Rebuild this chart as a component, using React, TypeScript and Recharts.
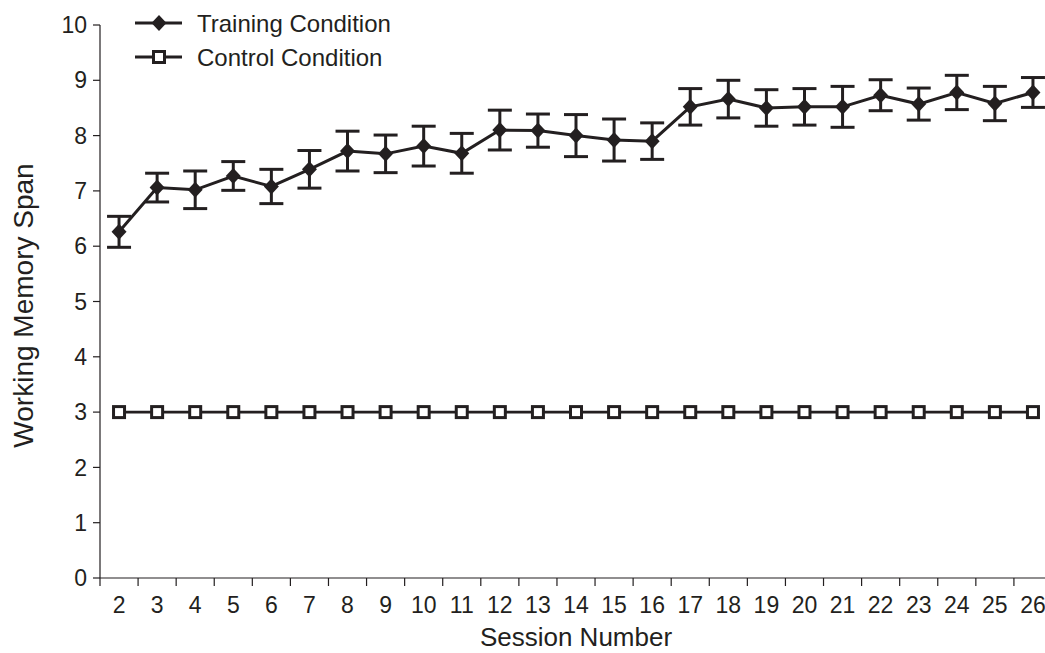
import { LineChart, Line, XAxis, YAxis, ErrorBar, Legend } from 'recharts';

const sessions = [2, 3, 4, 5, 6, 7, 8, 9, 10, 11, 12, 13, 14, 15, 16, 17, 18, 19, 20, 21, 22, 23, 24, 25, 26];
const trainingMean = [6.26, 7.06, 7.02, 7.27, 7.08, 7.39, 7.72, 7.67, 7.81, 7.68, 8.1, 8.09, 8.0, 7.92, 7.9, 8.52, 8.66, 8.5, 8.52, 8.52, 8.73, 8.57, 8.78, 8.58, 8.78];
const trainingErr = [0.28, 0.26, 0.34, 0.26, 0.31, 0.34, 0.36, 0.34, 0.36, 0.36, 0.36, 0.3, 0.38, 0.38, 0.33, 0.33, 0.34, 0.33, 0.33, 0.37, 0.28, 0.29, 0.31, 0.31, 0.27];
const controlMean = [3, 3, 3, 3, 3, 3, 3, 3, 3, 3, 3, 3, 3, 3, 3, 3, 3, 3, 3, 3, 3, 3, 3, 3, 3];
const yTicks = [0, 1, 2, 3, 4, 5, 6, 7, 8, 9, 10];

const data = sessions.map((s, i) => ({
  session: s,
  training: trainingMean[i],
  err: trainingErr[i],
  control: controlMean[i],
}));

const INK = '#231f20';
const FONT = 'Arial, "Liberation Sans", sans-serif';
const W = 1052;
const H = 653;
const Y_AXIS_W = 100;
const HALF_BAND = (W - Y_AXIS_W) / sessions.length / 2;

const Diamond = (props: any) => {
  const { cx, cy } = props;
  if (cx == null || cy == null) return null;
  return <polygon points={`${cx},${cy - 8} ${cx + 7.5},${cy} ${cx},${cy + 8} ${cx - 7.5},${cy}`} fill={INK} />;
};

const Square = (props: any) => {
  const { cx, cy } = props;
  if (cx == null || cy == null) return null;
  return <rect x={cx - 5.5} y={cy - 5.5} width={11} height={11} fill="#fff" stroke={INK} strokeWidth={3} />;
};

const XTick = (props: any) => {
  const { x, y, payload, index } = props;
  return (
    <g>
      <line x1={x - HALF_BAND} x2={x - HALF_BAND} y1={y} y2={y + 8} stroke={INK} strokeWidth={1.2} />
      {index === sessions.length - 1 && (
        <line x1={x + HALF_BAND} x2={x + HALF_BAND} y1={y} y2={y + 8} stroke={INK} strokeWidth={1.2} />
      )}
      <text x={x} y={y + 35} textAnchor="middle" fill={INK} fontSize={23} fontFamily={FONT}>
        {payload.value}
      </text>
    </g>
  );
};

const LegendBox = () => (
  <svg width={280} height={70}>
    <line x1={0} x2={47} y1={23} y2={23} stroke={INK} strokeWidth={3} />
    <Diamond cx={24} cy={23} />
    <text x={62} y={31.5} fill={INK} fontSize={24} fontFamily={FONT}>Training Condition</text>
    <line x1={0} x2={47} y1={57} y2={57} stroke={INK} strokeWidth={3} />
    <Square cx={24} cy={57} />
    <text x={62} y={65.5} fill={INK} fontSize={24} fontFamily={FONT}>Control Condition</text>
  </svg>
);

export default function App() {
  return (
    <div style={{ position: 'absolute', left: 0, top: 0, width: 1045, height: 653, overflow: 'hidden', background: '#fff' }}>
      <LineChart width={W} height={H} data={data} margin={{ top: 25, right: 0, left: 0, bottom: 0 }}>
        <XAxis
          dataKey="session"
          scale="band"
          height={75}
          stroke={INK}
          strokeWidth={1.2}
          tickLine={false}
          tickSize={0}
          tickMargin={0}
          interval={0}
          tick={<XTick />}
          label={{
            content: (p: any) => (
              <text x={p.viewBox.x + p.viewBox.width / 2} y={p.viewBox.y + 68} textAnchor="middle" fill={INK} fontSize={26} fontFamily={FONT}>
                Session Number
              </text>
            ),
          }}
        />
        <YAxis
          width={Y_AXIS_W}
          domain={[0, 10]}
          ticks={yTicks}
          interval={0}
          stroke={INK}
          strokeWidth={1.2}
          tickSize={7}
          tickMargin={6}
          tick={{ fill: INK, fontSize: 23, fontFamily: FONT }}
          label={{
            content: (p: any) => {
              const cx = p.viewBox.x + 23;
              const cy = p.viewBox.y + p.viewBox.height / 2 + 4;
              return (
                <text x={cx} y={cy} transform={`rotate(-90, ${cx}, ${cy})`} textAnchor="middle" dominantBaseline="central" fill={INK} fontSize={28} fontFamily={FONT}>
                  Working Memory Span
                </text>
              );
            },
          }}
        />
        <Legend
          layout="horizontal"
          verticalAlign="middle"
          align="center"
          content={<LegendBox />}
          wrapperStyle={{ position: 'absolute', top: 0, left: 135, width: 280, height: 70 }}
        />
        <Line
          dataKey="control"
          name="Control Condition"
          stroke={INK}
          strokeWidth={2.7}
          dot={<Square />}
          activeDot={false}
          isAnimationActive={false}
        />
        <Line
          dataKey="training"
          name="Training Condition"
          stroke={INK}
          strokeWidth={3}
          dot={<Diamond />}
          activeDot={false}
          isAnimationActive={false}
        >
          <ErrorBar dataKey="err" width={12} strokeWidth={3} stroke={INK} direction="y" isAnimationActive={false} />
        </Line>
      </LineChart>
    </div>
  );
}
